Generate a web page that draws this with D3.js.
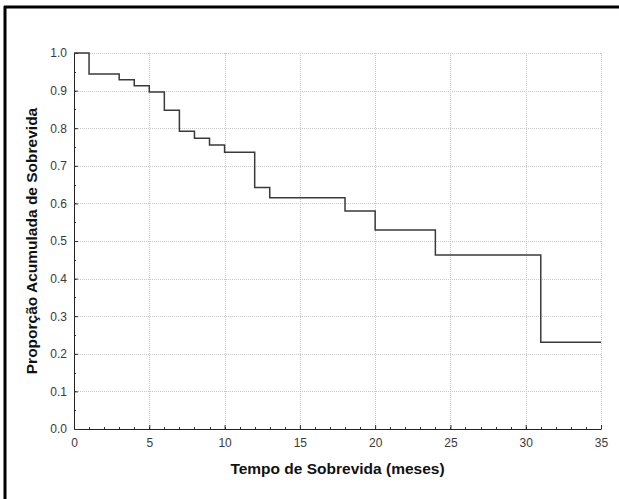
<!DOCTYPE html>
<html>
<head>
<meta charset="utf-8">
<script src="https://cdn.jsdelivr.net/npm/d3@7"></script>
<style>
  body { margin:0; background:#fff; }
  svg { display:block; }
  .tick text { font-family:"Liberation Sans", Arial, sans-serif; font-size:12px; fill:#3a3a3a; }
</style>
</head>
<body>
<div id="vis"></div>
<script>
// survival curve (Kaplan-Meier style steps)
var months = [0, 1, 3, 4, 5, 6, 7, 8, 9, 10, 12, 13, 18, 20, 24, 31, 35];
var survival = [1.0, 0.944, 0.929, 0.913, 0.896, 0.848, 0.792, 0.773, 0.755, 0.736, 0.642, 0.615, 0.580, 0.529, 0.463, 0.231, 0.231];
var xTicks = [0, 5, 10, 15, 20, 25, 30, 35];
var yTicks = [0, 0.1, 0.2, 0.3, 0.4, 0.5, 0.6, 0.7, 0.8, 0.9, 1.0];

var W = 619, H = 499;
var margin = {top:53, right:18, bottom:70, left:74};
var width = W - margin.left - margin.right;
var height = H - margin.top - margin.bottom;

var svg = d3.select("#vis").append("svg")
  .attr("width", W)
  .attr("height", H);

// frame (only left + top visible in the picture)
svg.append("line").attr("x1", 5).attr("x2", 5).attr("y1", 6).attr("y2", H)
  .attr("stroke", "#000").attr("stroke-width", 3);
svg.append("line").attr("x1", 4).attr("x2", W).attr("y1", 7).attr("y2", 7)
  .attr("stroke", "#000").attr("stroke-width", 3);

var g = svg.append("g")
  .attr("transform", "translate(" + margin.left + "," + margin.top + ")");

var x = d3.scaleLinear().domain([0, 35]).range([0, width]);
var y = d3.scaleLinear().domain([0, 1]).range([height, 0]);

// grid
g.append("g").selectAll("line")
  .data(xTicks.filter(function(d){ return d > 0; }))
  .enter().append("line")
  .attr("x1", function(d){ return Math.round(x(d)) + 0.5; })
  .attr("x2", function(d){ return Math.round(x(d)) + 0.5; })
  .attr("y1", 0).attr("y2", height)
  .attr("stroke", "#c8c8c8").attr("stroke-dasharray", "1,1");

g.append("g").selectAll("line")
  .data(yTicks.filter(function(d){ return d > 0; }))
  .enter().append("line")
  .attr("y1", function(d){ return Math.round(y(d)) + 0.5; })
  .attr("y2", function(d){ return Math.round(y(d)) + 0.5; })
  .attr("x1", 0).attr("x2", width)
  .attr("stroke", "#c8c8c8").attr("stroke-dasharray", "1,1");

// minor ticks
g.append("g").selectAll("line")
  .data(d3.range(0, 36))
  .enter().append("line")
  .attr("x1", function(d){ return Math.round(x(d)) + 0.5; })
  .attr("x2", function(d){ return Math.round(x(d)) + 0.5; })
  .attr("y1", height).attr("y2", height - 2)
  .attr("stroke", "#333");

g.append("g").selectAll("line")
  .data(d3.range(0, 21))
  .enter().append("line")
  .attr("y1", function(d){ return Math.round(y(d * 0.05)) + 0.5; })
  .attr("y2", function(d){ return Math.round(y(d * 0.05)) + 0.5; })
  .attr("x1", 0).attr("x2", 2)
  .attr("stroke", "#333");

// axes
var xAxis = d3.axisBottom(x).tickValues(xTicks).tickSizeInner(-4).tickSizeOuter(0).tickPadding(9)
  .tickFormat(d3.format("d"));
var yAxis = d3.axisLeft(y).tickValues(yTicks).tickSizeInner(-4).tickSizeOuter(0).tickPadding(7)
  .tickFormat(d3.format(".1f"));

g.append("g")
  .attr("class", "x axis")
  .attr("transform", "translate(0," + height + ")")
  .call(xAxis);

g.append("g")
  .attr("class", "y axis")
  .call(yAxis);

g.selectAll(".axis path").attr("stroke", "#222");
g.selectAll(".axis .tick line").attr("stroke", "#333");

// survival curve
var line = d3.line()
  .x(function(d){ return x(d[0]); })
  .y(function(d){ return y(d[1]); })
  .curve(d3.curveStepAfter);

g.append("path")
  .datum(months.map(function(m, i){ return [m, survival[i]]; }))
  .attr("d", line)
  .attr("fill", "none")
  .attr("stroke", "#3a3a3a")
  .attr("stroke-width", 1.5);

// titles
g.append("text")
  .attr("x", width / 2)
  .attr("y", height + 45)
  .attr("text-anchor", "middle")
  .style("font-family", "Liberation Sans, Arial, sans-serif")
  .style("font-weight", "bold")
  .style("font-size", "15.5px")
  .attr("fill", "#111")
  .text("Tempo de Sobrevida (meses)");

g.append("text")
  .attr("transform", "rotate(-90)")
  .attr("x", -height / 2)
  .attr("y", -37)
  .attr("text-anchor", "middle")
  .style("font-family", "Liberation Sans, Arial, sans-serif")
  .style("font-weight", "bold")
  .style("font-size", "15.5px")
  .attr("fill", "#111")
  .text("Proporção Acumulada de Sobrevida");
</script>
</body>
</html>
